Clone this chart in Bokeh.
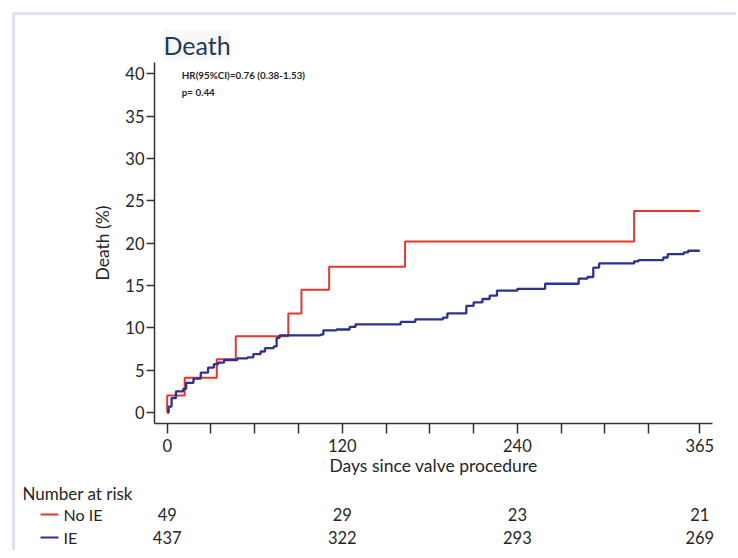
from bokeh.plotting import figure
from bokeh.models import Range1d, FixedTicker, Label, ColumnDataSource
from bokeh.layouts import column
from bokeh.embed import file_html
from bokeh.resources import INLINE
from bokeh.core.properties import value

# ---- data ----
red_days = [0, 0, 12, 34, 47, 83, 92, 111, 163, 320, 365]
red_vals = [0, 2.0, 4.1, 6.3, 9.0, 11.7, 14.5, 17.2, 20.2, 23.8, 23.8]

blue_days = [0, 1, 3, 6, 11, 13, 18, 23, 28, 32, 35, 39, 48, 55, 59, 64, 67, 73, 75, 77,
             105, 107, 116, 125, 129, 160, 170, 189, 192, 205, 210, 216, 221, 226, 240,
             259, 282, 288, 292, 296, 320, 323, 340, 343, 354, 357, 365]
blue_vals = [0, 0.7, 1.7, 2.5, 2.8, 3.5, 4.0, 4.7, 5.3, 5.7, 5.9, 6.2, 6.4, 6.5, 6.9, 7.2, 7.6, 7.8, 8.8, 9.1,
             9.2, 9.7, 9.8, 10.1, 10.4, 10.7, 11.0, 11.2, 11.7, 12.6, 13.0, 13.4, 13.8, 14.4, 14.6,
             15.2, 15.8, 16.0, 17.1, 17.6, 17.85, 18.0, 18.3, 18.7, 18.9, 19.1, 19.1]

risk_days = [0, 120, 240, 365]
risk_no_ie = [49, 29, 23, 21]
risk_ie = [437, 322, 293, 269]

x_ticks = [0, 30, 60, 90, 120, 150, 180, 210, 240, 270, 300, 330, 365]
x_tick_labels = ["0", "120", "240", "365"]
y_ticks = [0, 5, 10, 15, 20, 25, 30, 35, 40]

series_names = ["No IE", "IE"]
hr_text = "HR(95%CI)=0.76 (0.38-1.53)"
p_text = "p= 0.44"

RED = "#e9352b"
BLUE = "#2e3192"
TXT = "#262626"
FONT = "Lato"
W = 736

# ---- main KM plot ----
p = figure(width=W, height=480, output_backend="svg", toolbar_location=None,
           x_range=Range1d(-8.7, 373.7), y_range=Range1d(-1.3, 41.33),
           min_border_left=154, min_border_right=W - 154 - 558, min_border_top=62, min_border_bottom=57)
p.frame_align = False
p.outline_line_color = None
p.xgrid.visible = False
p.ygrid.visible = False
p.background_fill_color = "white"
p.border_fill_alpha = 0

p.step(red_days, red_vals, mode="after", line_color=RED, line_width=2)
p.step(blue_days, blue_vals, mode="after", line_color=BLUE, line_width=2.3)

# axes
p.xaxis.ticker = FixedTicker(ticks=x_ticks, minor_ticks=[])
p.xaxis.major_label_overrides = {t: (str(t) if str(t) in x_tick_labels else "") for t in x_ticks}
p.xaxis.axis_label = "Days since valve procedure"
p.yaxis.ticker = FixedTicker(ticks=y_ticks, minor_ticks=[])
p.yaxis.axis_label = "Death (%)"
for ax in (p.xaxis[0], p.yaxis[0]):
    ax.axis_line_color = "#333333"
    ax.axis_line_width = 1.5
    ax.major_tick_line_color = "#333333"
    ax.major_tick_line_width = 1.5
    ax.major_tick_in = 0
    ax.minor_tick_in = 0
    ax.minor_tick_out = 0
    ax.major_label_text_font = FONT
    ax.major_label_text_font_size = "16.5px"
    ax.major_label_text_color = TXT
    ax.axis_label_text_font = FONT
    ax.axis_label_text_font_size = "17.5px"
    ax.axis_label_text_font_style = "normal"
    ax.axis_label_text_color = TXT
p.xaxis.major_tick_out = 10
p.xaxis.major_label_standoff = 5
p.xaxis.axis_label_standoff = 0
p.yaxis.major_tick_out = 8
p.yaxis.major_label_standoff = 2
p.yaxis.axis_label_standoff = 9

# title
p.title.text = "Death"
p.title.text_font = FONT
p.title.text_font_size = "25px"
p.title.text_font_style = "normal"
p.title.text_color = "#1f3a5f"
p.title.align = "left"
p.title.offset = 9
p.title.standoff = 6
p.title.background_fill_color = "#f3f3f3"
p.title.background_fill_alpha = 0.6

p.add_layout(Label(x=10, y=39.8, text=hr_text, text_font=FONT, text_font_size="9.8px",
                   text_font_style="bold", text_color=TXT, text_baseline="middle"))
p.add_layout(Label(x=10, y=37.8, text=p_text, text_font=FONT, text_font_size="9.8px",
                   text_font_style="bold", text_color=TXT, text_baseline="middle"))

# ---- number at risk table ----
t = figure(width=W, height=70, output_backend="svg", toolbar_location=None,
           x_range=Range1d(-114.24, -114.24 + W / 1.4592), y_range=Range1d(70, 0),
           x_axis_location=None, y_axis_location=None,
           min_border_left=0, min_border_right=0, min_border_top=0, min_border_bottom=0)
t.frame_align = False
t.grid.visible = False
t.outline_line_color = None
t.border_fill_alpha = 0
t.background_fill_alpha = 0

row_y = [34, 57]
src = ColumnDataSource(dict(
    x=risk_days * 2,
    y=[row_y[0]] * len(risk_days) + [row_y[1]] * len(risk_days),
    txt=[str(v) for v in risk_no_ie] + [str(v) for v in risk_ie],
))
t.text(x="x", y="y", text="txt", source=src, text_align="center", text_baseline="middle",
       text_font=value(FONT), text_font_size="16.5px", text_color=TXT)

t.add_layout(Label(x=-99.2, y=13, text="Number at risk", text_font=FONT, text_font_size="17px",
                   text_color=TXT, text_baseline="middle"))
for name, yy, col in zip(series_names, row_y, [RED, BLUE]):
    t.line([-86.8, -74.5], [yy, yy], line_color=col, line_width=2)
    t.add_layout(Label(x=-71, y=yy, text=name, text_font=FONT, text_font_size="16px",
                       text_color=TXT, text_baseline="middle"))

BORDER = "#dfe2f1"
layout = column(p, t, spacing=0, styles={
    "background-image": f"linear-gradient({BORDER}, {BORDER}), linear-gradient({BORDER}, {BORDER})",
    "background-size": "3px 100%, 100% 3px",
    "background-position": "12px 12px, 12px 12px",
    "background-repeat": "no-repeat",
    "background-color": "white",
})

open("out.html", "w").write(file_html(layout, INLINE))
